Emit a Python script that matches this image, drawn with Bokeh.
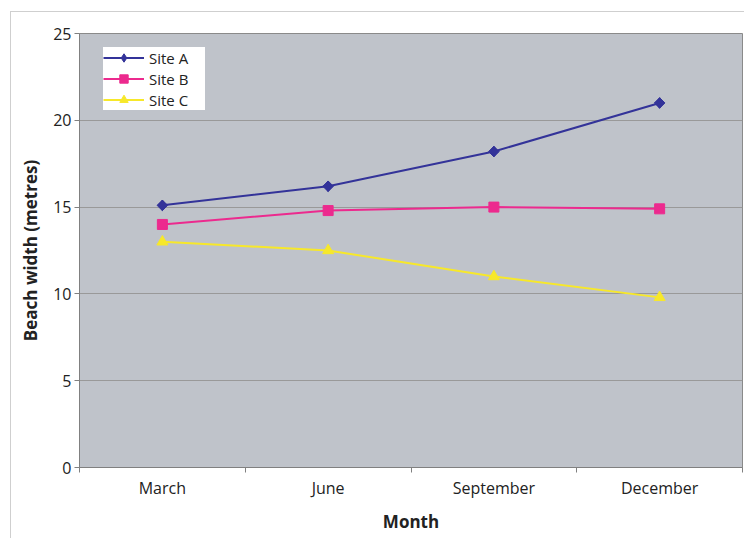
import math
from bokeh.plotting import figure
from bokeh.models import FixedTicker, Legend, LegendItem, Range1d
from bokeh.embed import file_html
from bokeh.resources import INLINE

months = ["March", "June", "September", "December"]
site_a = [15.1, 16.2, 18.2, 21.0]
site_b = [14.0, 14.8, 15.0, 14.9]
site_c = [13.0, 12.5, 11.0, 9.8]
y_ticks = [0, 5, 10, 15, 20, 25]

FONT = "Open Sans"
xpos = [i + 0.5 for i in range(len(months))]

p = figure(width=744, height=538, output_backend="svg", toolbar_location=None,
           x_range=Range1d(0, len(months)), y_range=Range1d(0, 25),
           min_border_left=79, min_border_right=2, min_border_top=33, min_border_bottom=71)

p.background_fill_color = "#BFC3CA"
p.border_fill_color = None
p.outline_line_color = "#8A8A8A"
p.outline_line_width = 1
p.styles = {
    "background-image": "linear-gradient(#cfcfcf,#cfcfcf), linear-gradient(#cfcfcf,#cfcfcf)",
    "background-size": "1px 100%, 100% 1px",
    "background-position": "10px 11px, 10px 11px",
    "background-repeat": "no-repeat",
}

A_COL, B_COL, C_COL = "#333399", "#EC2A8E", "#F7E82A"

ra = p.line(xpos, site_a, line_color=A_COL, line_width=2)
# diamond (used by the legend) hidden beneath the rotated square markers
ma_leg = p.scatter(xpos, site_a, marker="diamond", size=10.5, fill_color=A_COL, line_color=A_COL)
ma = p.scatter(xpos, site_a, marker="square", size=7.5, angle=math.pi / 4,
               fill_color=A_COL, line_color=A_COL)
rb = p.line(xpos, site_b, line_color=B_COL, line_width=2)
mb = p.scatter(xpos, site_b, marker="square", size=10, fill_color=B_COL, line_color=B_COL)
rc = p.line(xpos, site_c, line_color=C_COL, line_width=2)
mc = p.scatter(xpos, site_c, marker="triangle", size=11, fill_color=C_COL, line_color=C_COL)

# axes
p.xaxis.ticker = FixedTicker(ticks=xpos, minor_ticks=list(range(len(months) + 1)))
p.xaxis.major_label_overrides = {x: m for x, m in zip(xpos, months)}
p.xaxis.major_tick_out = 0
p.xaxis.major_tick_in = 0
p.xaxis.minor_tick_out = 5
p.xaxis.minor_tick_in = 0
p.xaxis.minor_tick_line_color = "#808080"
p.xaxis.axis_line_color = "#808080"
p.xaxis.axis_label = "Month"

p.yaxis.ticker = FixedTicker(ticks=y_ticks, minor_ticks=[])
p.yaxis.major_tick_out = 5
p.yaxis.major_tick_in = 0
p.yaxis.major_tick_line_color = "#808080"
p.yaxis.axis_line_color = "#808080"
p.yaxis.axis_label = "Beach width (metres)"

for ax in (p.xaxis, p.yaxis):
    ax.major_label_text_font = FONT
    ax.major_label_text_font_size = "16px"
    ax.major_label_text_color = "#222222"
    ax.axis_label_text_font = FONT
    ax.axis_label_text_font_size = "17px"
    ax.axis_label_text_font_style = "bold"
    ax.axis_label_text_color = "#222222"
p.xaxis.major_label_standoff = 4
p.xaxis.axis_label_standoff = 8
p.yaxis.major_label_standoff = 3
p.yaxis.axis_label_standoff = 8

p.xgrid.grid_line_color = None
p.ygrid.ticker = FixedTicker(ticks=y_ticks)
p.ygrid.grid_line_color = "#999999"
p.ygrid.grid_line_width = 1

legend = Legend(items=[LegendItem(label="Site A", renderers=[ra, ma_leg]),
                       LegendItem(label="Site B", renderers=[rb, mb]),
                       LegendItem(label="Site C", renderers=[rc, mc])],
                location=(24, 357))
legend.background_fill_color = "white"
legend.background_fill_alpha = 1
legend.border_line_color = None
legend.label_text_font = FONT
legend.label_text_font_size = "15px"
legend.label_text_color = "#222222"
legend.glyph_width = 41
legend.glyph_height = 21
legend.label_height = 21
legend.label_width = 56
legend.label_standoff = 5
legend.spacing = 0
legend.padding = 2
legend.margin = 0
p.add_layout(legend)

open("out.html", "w").write(file_html(p, INLINE))
